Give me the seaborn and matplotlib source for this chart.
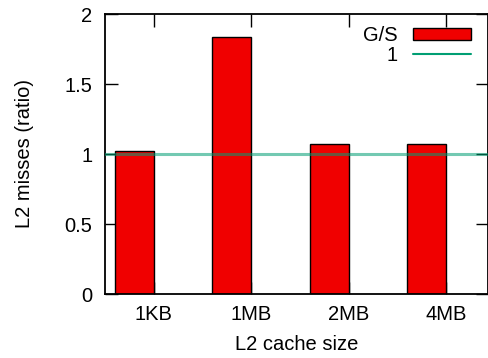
import matplotlib
matplotlib.use("Agg")
import matplotlib.pyplot as plt
import seaborn as sns
import pandas as pd
from matplotlib.patches import Patch
from matplotlib.lines import Line2D

# L2 miss ratio (G/S) per cache size
cache_sizes = ["1KB", "1MB", "2MB", "4MB"]
gs_ratio = [1.02, 1.835, 1.07, 1.07]
baseline = 1.0
y_ticks = [0, 0.5, 1, 1.5, 2]

df = pd.DataFrame({"size": cache_sizes, "ratio": gs_ratio})

sns.set_theme(style="white")
plt.rcParams["font.family"] = ["Liberation Sans", "DejaVu Sans"]
plt.rcParams["text.color"] = "black"
plt.rcParams["axes.labelcolor"] = "black"
FS = 14.5

fig = plt.figure(figsize=(4.89, 3.58), dpi=100)
ax = fig.add_axes([105 / 489, 64 / 358, 383 / 489, 280 / 358])

bar_w = 0.4
sns.barplot(data=df, x="size", y="ratio", ax=ax, color="#f00000",
            width=bar_w, saturation=1, edgecolor="black", linewidth=1.0,
            errorbar=None, zorder=2)
# clustered-histogram layout: each bar sits just left of its tick
for p in ax.patches:
    p.set_x(p.get_x() - bar_w / 2)

ax.axhline(baseline, color="#009e73", alpha=0.55, lw=2.2, zorder=3)

ax.set_xlim(-0.5, 3.43)
ax.set_ylim(0, 2)
ax.set_yticks(y_ticks)
ax.set_yticklabels(["0", "0.5", "1", "1.5", "2"])
ax.set_xlabel("L2 cache size", fontsize=FS, labelpad=8, color="black")
ax.set_ylabel("L2 misses (ratio)", fontsize=FS, labelpad=22, color="black")

for s in ax.spines.values():
    s.set_visible(True)
    s.set_color("black")
    s.set_linewidth(1.3)
ax.tick_params(axis="both", direction="in", length=9, width=1,
               top=True, right=True, bottom=True, left=True,
               labelsize=FS, colors="black", labelcolor="black")
ax.tick_params(axis="y", pad=9)
ax.tick_params(axis="x", pad=8)

handles = [Patch(facecolor="#f00000", edgecolor="black", linewidth=1.0),
           Line2D([0], [0], color="#009e73", lw=1.5)]
leg = ax.legend(handles, ["G/S", "1"], loc="upper right", frameon=False,
                markerfirst=False, handlelength=2.9, handleheight=0.55,
                handletextpad=0.75, fontsize=FS, labelspacing=0.05,
                borderpad=0.0, borderaxespad=0.0,
                bbox_to_anchor=(471 / 489, (358 - 26) / 358),
                bbox_transform=fig.transFigure)

fig.savefig("out.png", dpi=100)
